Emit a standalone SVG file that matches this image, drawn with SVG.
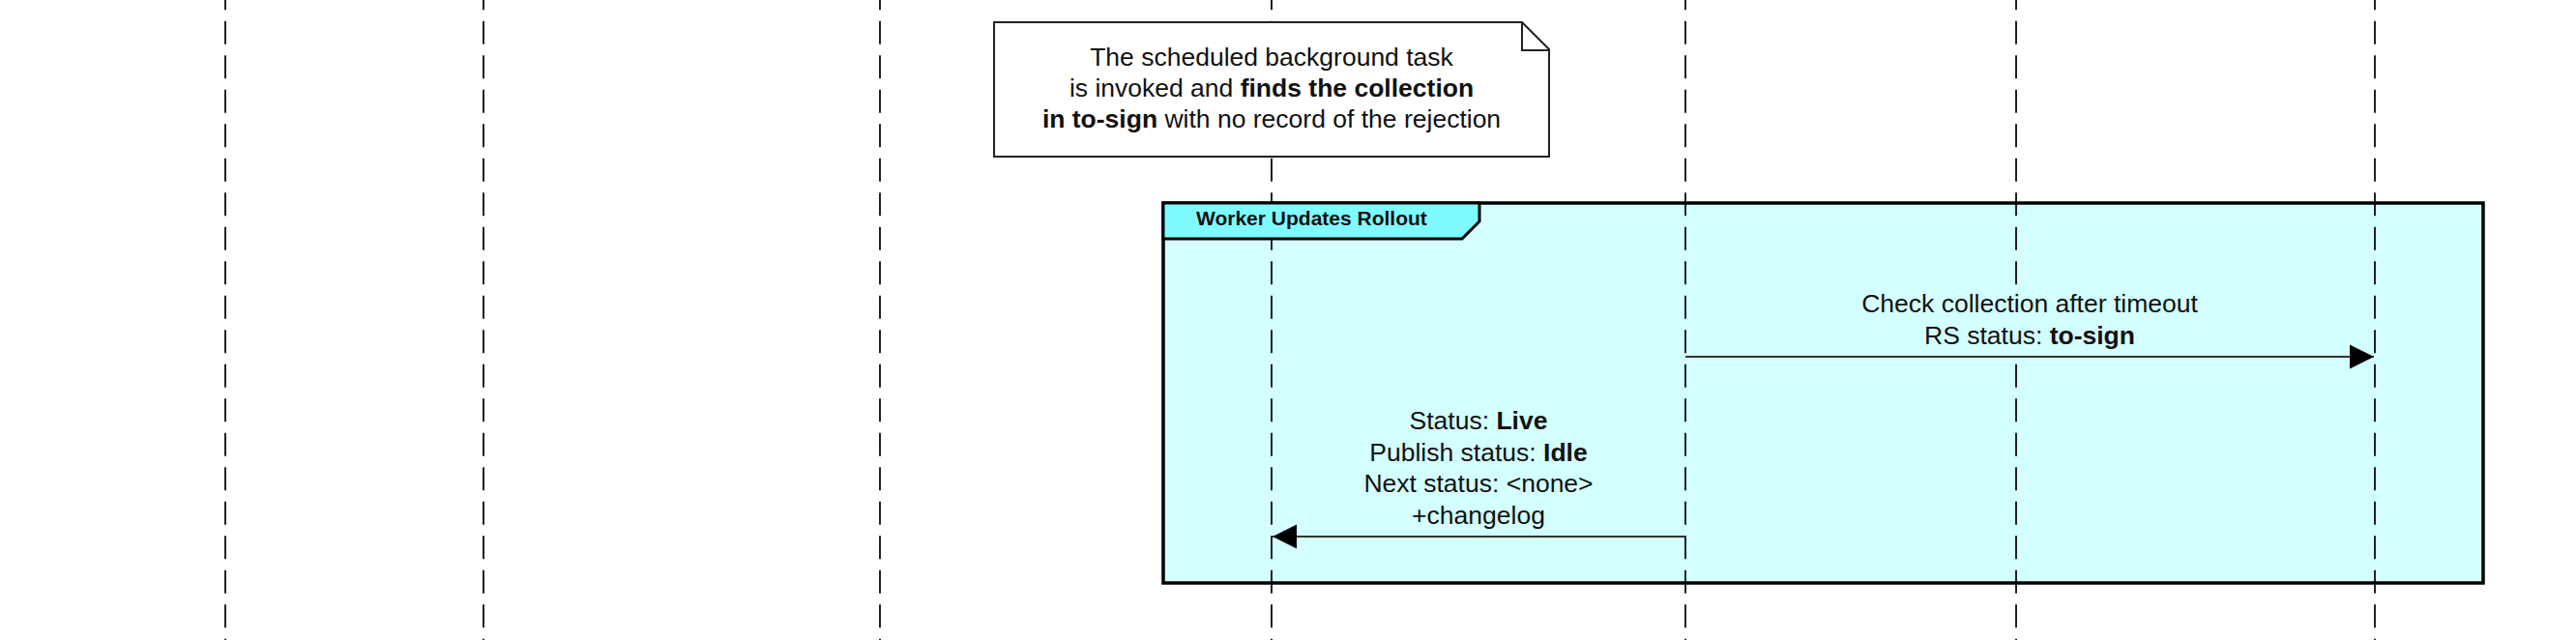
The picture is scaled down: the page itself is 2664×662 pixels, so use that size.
<svg xmlns="http://www.w3.org/2000/svg" width="2664" height="662" viewBox="0 0 2664 662">
<style>
text{font-family:"Liberation Sans",Arial,Helvetica,sans-serif;fill:#111;}
.lbl{font-size:26.5px;text-anchor:middle;}
.b{font-weight:bold;}
.life{stroke:#222;stroke-width:2;stroke-dasharray:24 11.5;stroke-dashoffset:13.7;fill:none;}
.msg{stroke:#333;stroke-width:2;fill:none;}
</style>
<defs>
<marker id="ah" markerWidth="26" markerHeight="26" viewBox="0 0 26 26" refX="25" refY="13" orient="auto" markerUnits="userSpaceOnUse">
<path d="M0,0.5 L25,13 L0,25.5 Z" fill="#000"/>
</marker>
</defs>
<rect width="2664" height="662" fill="#fff"/>
<rect id="frame-bg" x="1203" y="210" width="1365" height="393" fill="#D4FFFF"/>
<g id="lifelines">
<line class="life" x1="233" y1="0" x2="233" y2="662"/>
<line class="life" x1="500" y1="0" x2="500" y2="662"/>
<line class="life" x1="910" y1="0" x2="910" y2="662"/>
<line class="life" x1="1315" y1="0" x2="1315" y2="662"/>
<line class="life" x1="1743" y1="0" x2="1743" y2="662"/>
<line class="life" x1="2085" y1="0" x2="2085" y2="662"/>
<line class="life" x1="2456" y1="0" x2="2456" y2="662"/>
</g>
<g id="frame">
<rect x="1203" y="210" width="1365" height="393" fill="none" stroke="#000" stroke-width="3.5"/>
<polygon points="1203,210 1530,210 1530,229 1512,247 1203,247" fill="#7FFBFF" stroke="#000" stroke-width="3"/>
<text x="1237" y="233" class="b" style="font-size:21px">Worker Updates Rollout</text>
</g>
<g id="note">
<path d="M1028,23 L1574,23 L1602,51 L1602,162 L1028,162 Z" fill="#fff" stroke="#222" stroke-width="2"/>
<path d="M1574,23 L1574,52 L1602,52" fill="none" stroke="#222" stroke-width="2"/>
<text class="lbl" x="1315" y="68">The scheduled background task</text>
<text class="lbl" x="1315" y="100">is invoked and <tspan class="b">finds the collection</tspan></text>
<text class="lbl" x="1315" y="132"><tspan class="b">in to-sign</tspan> with no record of the rejection</text>
</g>
<g id="labels">
<rect x="1924" y="296" width="350" height="73" fill="#D4FFFF"/>
<text class="lbl" x="2099" y="323">Check collection after timeout</text>
<text class="lbl" x="2099" y="356">RS status: <tspan class="b">to-sign</tspan></text>
<text class="lbl" x="1529" y="444">Status: <tspan class="b">Live</tspan></text>
<text class="lbl" x="1529" y="476.5">Publish status: <tspan class="b">Idle</tspan></text>
<text class="lbl" x="1529" y="509">Next status: &lt;none&gt;</text>
<text class="lbl" x="1529" y="542">+changelog</text>
</g>
<g id="connectors">
<line class="msg" x1="1743" y1="369" x2="2455" y2="369" marker-end="url(#ah)"/>
<line class="msg" x1="1743" y1="555" x2="1316" y2="555" marker-end="url(#ah)"/>
</g>
</svg>
